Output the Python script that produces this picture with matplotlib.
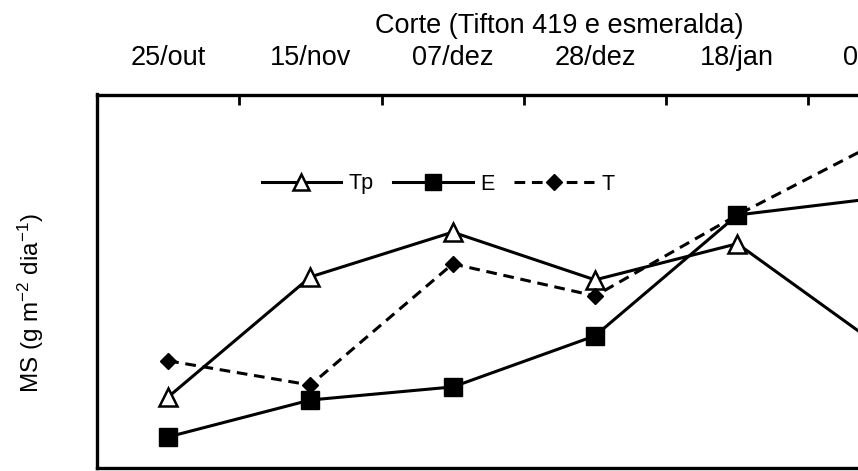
import matplotlib
matplotlib.use("Agg")
import matplotlib.pyplot as plt

plt.rcParams['font.family'] = ['Liberation Sans', 'DejaVu Sans']
plt.rcParams['mathtext.default'] = 'regular'

# Data (MS in g m-2 dia-1, arbitrary scale)
cortes = ['25/out', '15/nov', '07/dez', '28/dez', '18/jan', '08/fev']
tp = [1.89, 5.11, 6.31, 5.03, 6.00, 3.25]
e = [0.82, 1.81, 2.16, 3.53, 6.77, 7.23]
t = [2.86, 2.21, 5.46, 4.60, 6.77, 8.74]

W, H = 858, 471
fig = plt.figure(figsize=(W / 100, H / 100), dpi=100)

# axes run past the right edge (the original is cropped there)
left, right = 97, 97 + 6 * 142.3
top, bottom = 94.5, 467.5
ax = fig.add_axes([left / W, 1 - bottom / H, (right - left) / W, (bottom - top) / H])

x = list(range(len(cortes)))
lw = 2.2
ax.plot(x, tp, color='black', lw=lw, marker='^', ms=12.5, mfc='white',
        mec='black', mew=1.8, label='Tp', zorder=3)
ax.plot(x, e, color='black', lw=lw, marker='s', ms=13, mfc='black',
        mec='black', label='E', zorder=3)
ax.plot(x, t, color='black', lw=lw, ls=(0, (3.5, 2.2)), marker='D', ms=8.5,
        mfc='black', mec='black', label='T', zorder=3)

ax.set_xlim(-0.5, len(cortes) - 0.5)
ax.set_ylim(0, 10)

# category labels on top, ticks between categories
ax.xaxis.tick_top()
ax.set_xticks([i + 0.5 for i in x[:-1]])
ax.set_xticklabels([])
ax.set_xticks(x, minor=True)
ax.set_xticklabels(cortes, minor=True, fontsize=19.5)
ax.tick_params(axis='x', which='major', direction='in', length=7, width=2)
ax.tick_params(axis='x', which='minor', length=0, pad=17)
ax.set_yticks([])

for s in ax.spines.values():
    s.set_linewidth(2.4)

fig.text(559 / W, 1 - 33 / H, 'Corte (Tifton 419 e esmeralda)', fontsize=19.5,
         ha='center', va='baseline')
fig.text(31 / W, 1 - 303 / H, 'MS (g m$^{-2}$ dia$^{-1}$)', fontsize=17.5,
         rotation=90, ha='center', va='center')

ax.legend(loc='center', bbox_to_anchor=((438 - left) / (right - left), (bottom - 184) / (bottom - top)),
          ncol=3, frameon=False, fontsize=15.5, handlelength=3.7, handletextpad=0.35,
          columnspacing=0.9, markerscale=0.9)

fig.savefig('out.png', dpi=100)
